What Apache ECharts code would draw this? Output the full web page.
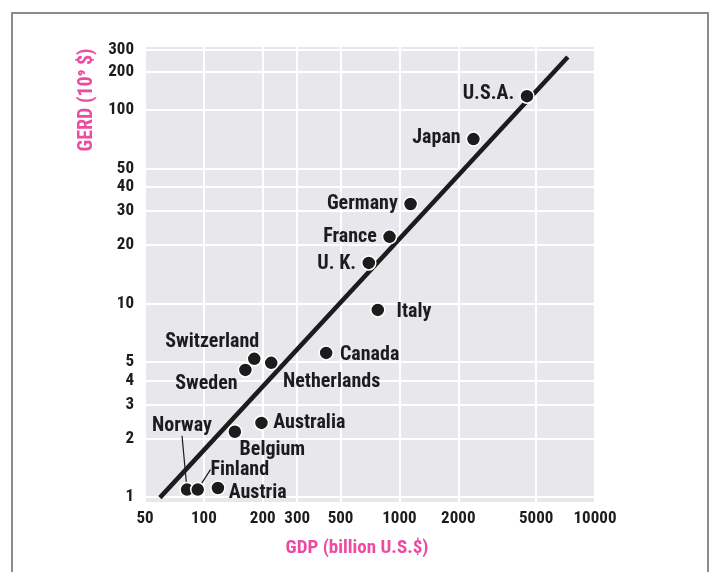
<!DOCTYPE html>
<html>
<head>
<meta charset="utf-8">
<script src="https://cdn.jsdelivr.net/npm/echarts@6/dist/echarts.min.js"></script>
<style>
  html, body { margin: 0; padding: 0; background: #fff; }
  #chart { width: 712px; height: 572px; }
</style>
</head>
<body>
<div id="chart"></div>
<script>
// ---- data ----
const countries = ['U.S.A.', 'Japan', 'Germany', 'France', 'U. K.', 'Italy', 'Canada',
  'Switzerland', 'Sweden', 'Netherlands', 'Australia', 'Belgium', 'Norway', 'Finland', 'Austria'];
const gdp  = [4490, 2390, 1140, 890, 697, 775, 422, 181, 163, 221, 197, 144, 82, 93, 118];
const gerd = [118, 70.8, 32.7, 22.1, 16.2, 9.26, 5.55, 5.17, 4.53, 4.93, 2.41, 2.17, 1.09, 1.09, 1.11];

// fitted line end points (GDP, GERD)
const fitGdp  = [59.6, 7260];
const fitGerd = [0.99, 188];

// tick labels
const xTickValues = [50, 100, 200, 300, 500, 1000, 2000, 5000, 10000];
const xTickLabels = ['50', '100', '200', '300', '500', '1000', '2000', '5000', '10000'];
// the original prints its two top labels squeezed; these are the values where they sit on the log scale
const yTickValues = [1, 2, 3, 4, 5, 10, 20, 30, 40, 50, 100, 157, 204];
const yTickLabels = ['1', '2', '3', '4', '5', '10', '20', '30', '40', '50', '100', '200', '300'];

// ---- styling ----
const FONT = "'Roboto Condensed', 'DejaVu Sans Condensed', sans-serif";
const PINK = '#ee4aa2';
const INK = '#1c1c1c';

const labelPlace = {
  'U.S.A.':      { position: 'left',  shift: [0, -2] },
  'Japan':       { position: 'left',  shift: [0, -1] },
  'Germany':     { position: 'left',  shift: [0, 0] },
  'France':      { position: 'left',  shift: [0, 0] },
  'U. K.':       { position: 'left',  shift: [0, 1] },
  'Italy':       { position: 'right', shift: [6, 2] },
  'Canada':      { position: 'right', shift: [1, 2] },
  'Switzerland': { position: 'top',   shift: [-42, 6] },
  'Sweden':      { position: 'left',  shift: [5, 14] },
  'Netherlands': { position: 'right', shift: [-1, 19] },
  'Australia':   { position: 'right', shift: [-1, 0] },
  'Belgium':     { position: 'right', shift: [-8, 18] },
  'Norway':      { position: 'top',   shift: [-5, -41], line: true },
  'Finland':     { position: 'right', shift: [0, -20], line: true },
  'Austria':     { position: 'right', shift: [-2, 5] }
};

const points = countries.map((name, i) => {
  const p = labelPlace[name];
  const item = { name: name, value: [gdp[i], gerd[i]], label: { position: p.position } };
  if (p.line) item.labelLine = { show: true, lineStyle: { color: INK, width: 1.2, opacity: 1 } };
  return item;
});

const chart = echarts.init(document.getElementById('chart'));
chart.setOption({
  animation: false,
  backgroundColor: '#fff',
  grid: { left: 145, right: 117, top: 47, bottom: 70, show: true, backgroundColor: '#e8e7eb', borderWidth: 0 },
  xAxis: {
    type: 'log', logBase: 10, min: 50, max: 10000,
    name: 'GDP (billion U.S.$)', nameLocation: 'middle', nameGap: 37,
    nameTextStyle: { color: PINK, fontFamily: FONT, fontSize: 19, fontWeight: 'bold', padding: [0, 26, 0, 0] },
    axisLine: { show: false }, axisTick: { show: false, customValues: xTickValues },
    axisLabel: {
      customValues: xTickValues,
      formatter: (v) => { const k = xTickValues.findIndex(t => Math.abs(t - v) / t < 1e-6); return k >= 0 ? xTickLabels[k] : ''; },
      color: INK, fontFamily: FONT, fontSize: 17, fontWeight: 'bold', margin: 8
    },
    splitLine: { show: true, lineStyle: { color: '#ffffff', width: 2 } }
  },
  yAxis: {
    type: 'log', logBase: 10, min: 0.94, max: 212,
    axisLine: { show: false }, axisTick: { show: false, customValues: yTickValues },
    axisLabel: {
      customValues: yTickValues,
      formatter: (v) => { const k = yTickValues.findIndex(t => Math.abs(t - v) / t < 1e-6); return k >= 0 ? yTickLabels[k] : ''; },
      color: INK, fontFamily: FONT, fontSize: 17, fontWeight: 'bold', margin: 11
    },
    splitLine: { show: true, lineStyle: { color: '#ffffff', width: 2 } }
  },
  graphic: [
    { type: 'rect', shape: { x: 12, y: 13, width: 696, height: 575 }, style: { fill: 'none', stroke: '#8c8c8c', lineWidth: 2 }, silent: true },
    { type: 'text', x: 87, y: 100, rotation: Math.PI / 2,
      style: { text: 'GERD (10⁹ $)', fill: PINK, font: 'bold 20px ' + FONT, textAlign: 'center', textVerticalAlign: 'middle' } }
  ],
  series: [
    {
      type: 'line', data: fitGdp.map((x, i) => [x, fitGerd[i]]),
      showSymbol: false, symbol: 'none', lineStyle: { color: INK, width: 4.5 }, z: 2, silent: true
    },
    {
      type: 'scatter', data: points, symbolSize: 14, z: 3,
      itemStyle: { color: INK, opacity: 1, borderColor: '#ffffff', borderWidth: 1.5 },
      label: { show: true, formatter: '{b}', color: INK, fontFamily: FONT, fontSize: 20, fontWeight: 'bold', distance: 5 },
      labelLayout: (params) => {
        const s = labelPlace[countries[params.dataIndex]].shift;
        return { dx: s[0], dy: s[1] };
      }
    }
  ]
});
</script>
</body>
</html>
